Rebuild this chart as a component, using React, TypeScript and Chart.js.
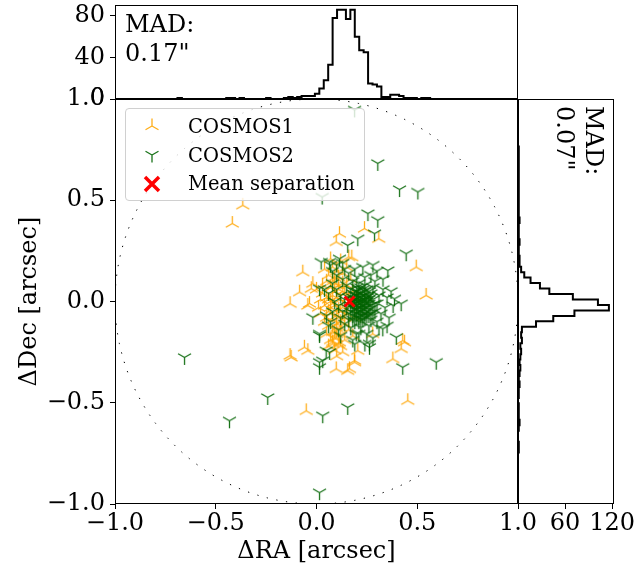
import React, { useEffect, useRef } from 'react';
import { Chart, registerables } from 'chart.js';

Chart.register(...registerables);

const SERIF = "'DejaVu Serif', 'Liberation Serif', serif";

const mainTicks = [-1, -0.5, 0, 0.5, 1];
const topHistTicks = [0, 40, 80];
const rightHistTicks = [60, 120];

const raHistStart = -0.8;
const raHistBinWidth = 0.022;
const raHistCounts = [
  0, 0, 0, 0, 0, 1, 0, 0, 0, 0,
  0, 0, 0, 0, 0, 0, 1, 1, 0, 1,
  0, 0, 0, 0, 0, 1, 0, 0, 0, 1,
  2, 1, 2, 3, 3, 3, 5, 10, 18, 33,
  78, 86, 86, 77, 86, 60, 47, 45, 15, 14,
  12, 2, 2, 4, 4, 3, 1, 1, 1, 0,
  1, 1, 0, 0, 0, 0, 0, 0, 0, 0,
  0, 0,
];

const decHistStart = -0.8;
const decHistBinWidth = 0.027;
const decHistCounts = [
  0, 0, 1, 1, 0, 0, 1, 2, 1, 1,
  1, 0, 1, 1, 2, 1, 2, 3, 2, 3,
  4, 3, 5, 4, 5, 23, 45, 72, 116, 102,
  70, 40, 28, 16, 8, 4, 2, 2, 1, 1,
  2, 1, 1, 1, 2, 1, 1, 1, 1, 1,
  1, 1, 1, 1, 1, 1, 1, 1, 0, 0,
];

// COSMOS1 offsets [dRA, dDec] in arcsec
const cosmos1 = [
  [-0.366, 0.475], [-0.418, 0.385], [0.114, 0.335], [0.238, 0.36], [0.309, 0.31], [0.098, 0.294],
  [0.175, 0.219], [0.495, 0.17], [-0.068, 0.145], [0.544, 0.03], [-0.084, 0.046], [-0.026, 0.063],
  [-0.131, -0.011], [-0.043, -0.02], [-0.131, -0.267], [-0.06, -0.226], [-0.043, -0.243], [0.098, -0.333],
  [0.155, -0.342], [0.189, -0.3], [0.205, -0.243], [0.279, -0.16], [0.379, -0.284], [0.42, -0.234],
  [0.437, -0.201], [0.453, -0.49], [-0.051, -0.54], [0.101, -0.16], [0.081, -0.209], [0.114, -0.201],
  [-0.035, -0.01], [-0.018, 0.088], [-0.126, -0.276], [0.164, -0.333], [0.428, -0.193], [0.189, -0.292],
  [0.09, -0.02], [0.07, 0.0], [0.11, -0.04], [0.08, 0.03], [0.12, 0.01], [0.06, -0.05], [0.1, -0.07],
  [0.13, -0.03], [0.05, 0.02], [0.14, 0.04], [0.08, -0.09], [0.11, 0.06], [0.04, -0.02], [0.15, -0.06],
  [0.07, 0.07], [0.12, -0.1], [0.09, 0.09], [0.03, 0.04], [0.16, 0.02], [0.06, -0.12], [0.1, -0.13],
  [0.14, -0.11], [0.05, 0.1], [0.13, 0.09], [0.02, -0.06], [0.17, -0.02], [0.08, -0.15], [0.11, 0.12],
  [0.04, -0.1], [0.15, 0.08], [0.09, -0.18], [0.12, -0.16], [0.06, 0.13], [0.18, 0.05], [0.03, 0.08],
  [0.07, -0.19], [0.14, -0.19], [0.1, 0.15], [0.16, -0.14], [0.02, 0.01], [0.19, -0.08], [0.05, -0.16],
  [0.13, 0.14], [0.08, 0.17], [0.11, -0.21], [0.01, -0.03], [0.17, 0.11], [0.04, 0.16], [0.09, -0.24],
  [0.15, 0.17], [0.2, 0.01], [0.12, 0.2], [0.07, 0.21], [0.06, -0.22], [0.18, -0.17], [0.0, 0.06],
  [0.13, -0.25], [0.1, -0.27], [0.16, 0.22],
  [0.08, -0.01], [0.1, 0.02], [0.12, -0.05], [0.09, 0.05], [0.07, -0.06], [0.11, -0.08], [0.13, 0.05],
  [0.06, 0.01], [0.1, -0.11], [0.08, 0.1], [0.12, -0.13], [0.09, -0.15], [0.07, -0.03], [0.11, 0.08],
  [0.05, -0.08], [0.1, -0.18], [0.08, -0.2], [0.12, -0.22], [0.09, 0.12], [0.14, -0.08],
];

// COSMOS2 offsets [dRA, dDec] in arcsec
const cosmos2 = [
  [0.189, 0.946], [0.304, 0.682], [0.412, 0.553], [0.503, 0.541], [0.028, 0.516], [0.255, 0.434],
  [0.304, 0.401], [0.288, 0.335], [0.205, 0.31], [0.155, 0.277], [0.445, 0.236], [0.354, 0.153],
  [-0.655, -0.276], [-0.242, -0.474], [-0.432, -0.589], [0.031, -0.564], [0.155, -0.523], [0.015, -0.944],
  [0.594, -0.3], [0.428, -0.325], [0.396, -0.177], [0.329, -0.135], [0.263, -0.209], [0.197, -0.16],
  [0.015, -0.168], [-0.018, -0.078], [0.065, -0.251], [0.031, -0.292], [0.015, -0.325], [0.42, -0.011],
  [0.387, 0.013], [0.023, 0.195], [0.065, 0.195], [0.114, 0.211], [0.015, 0.063], [0.263, -0.226],
  [0.015, -0.3], [0.048, -0.243], [0.015, -0.16],
  [0.2, -0.02], [0.22, -0.01], [0.18, 0.0], [0.24, -0.03], [0.21, 0.02], [0.19, -0.04], [0.23, 0.01],
  [0.17, -0.02], [0.25, 0.0], [0.2, -0.06], [0.22, -0.05], [0.26, -0.04], [0.16, 0.02], [0.19, 0.03],
  [0.24, 0.03], [0.27, -0.02], [0.21, -0.08], [0.18, -0.07], [0.15, -0.03], [0.28, 0.01], [0.23, -0.09],
  [0.26, 0.05], [0.14, 0.01], [0.29, -0.05], [0.2, 0.05], [0.17, 0.06], [0.22, 0.07], [0.25, -0.07],
  [0.13, -0.05], [0.3, -0.01], [0.19, -0.1], [0.16, -0.09], [0.27, -0.09], [0.24, 0.08], [0.12, 0.03],
  [0.31, 0.03], [0.21, 0.09], [0.15, 0.08], [0.28, 0.07], [0.11, -0.02], [0.32, -0.06], [0.18, 0.1],
  [0.26, -0.12], [0.14, -0.11], [0.22, -0.13], [0.1, 0.06], [0.33, 0.06], [0.29, 0.1], [0.12, -0.08],
  [0.2, 0.12], [0.09, 0.0], [0.34, -0.03], [0.24, 0.12], [0.17, -0.13], [0.3, -0.1], [0.08, -0.05],
  [0.35, 0.02], [0.13, 0.11], [0.27, 0.13], [0.21, -0.16], [0.16, 0.14], [0.31, -0.13], [0.08, 0.09],
  [0.36, -0.08], [0.11, -0.14], [0.25, -0.16], [0.19, 0.16], [0.33, 0.11], [0.07, -0.1], [0.28, -0.18],
  [0.14, 0.16], [0.37, 0.05], [0.1, 0.13], [0.06, 0.04], [0.3, 0.15], [0.23, 0.17], [0.12, -0.17],
  [0.35, -0.12], [0.18, -0.19], [0.08, 0.15], [0.07, 0.18], [0.1, 0.18], [0.13, 0.19], [0.05, -0.07],
  [0.06, -0.12], [0.19, -0.21], [0.24, -0.21], [0.38, -0.02], [0.04, 0.06], [0.28, 0.18],
  [0.21, -0.03], [0.23, -0.02], [0.2, 0.0], [0.22, 0.02], [0.25, -0.05], [0.18, -0.03], [0.24, -0.06],
  [0.26, -0.01], [0.19, 0.01], [0.21, 0.04], [0.23, -0.07], [0.27, 0.02],
  [0.2, -0.04], [0.22, -0.03], [0.24, -0.01], [0.19, -0.01], [0.21, -0.05], [0.23, 0.03], [0.25, -0.03],
  [0.18, 0.02], [0.2, 0.03], [0.26, 0.01], [0.22, -0.07], [0.17, -0.05], [0.24, 0.05], [0.27, -0.06],
  [0.21, 0.06], [0.19, -0.06], [0.23, -0.04], [0.25, 0.02], [0.2, -0.08], [0.28, -0.03], [0.18, 0.04],
  [0.22, 0.04], [0.26, -0.07], [0.21, 0.0], [0.23, 0.0], [0.24, -0.08], [0.2, 0.07], [0.17, 0.0],
  [0.27, 0.04], [0.19, 0.05], [0.22, -0.09], [0.25, 0.06], [0.16, -0.06], [0.29, -0.01], [0.21, -0.1],
  [0.18, -0.09], [0.26, 0.03], [0.23, 0.06], [0.28, -0.07], [0.2, -0.01], [0.22, 0.0], [0.24, 0.01],
];

const meanSeparation = { ra: 0.164, dec: 0.0 };
const circleRadius = 1.0;
const madRa = '0.17"';
const madDec = '0.07"';

const fmtMain = (v: number) => (v < 0 ? '\u2212' : '') + Math.abs(v).toFixed(1);

function fixScale(size: number) {
  return (s: any) => {
    if (s.isHorizontal()) s.height = size;
    else s.width = size;
    s.paddingLeft = 0;
    s.paddingRight = 0;
    s.paddingTop = 0;
    s.paddingBottom = 0;
  };
}

function setTicks(values: number[]) {
  return (s: any) => {
    s.ticks = values.map((v) => ({ value: v }));
  };
}

const tickGrid = {
  display: true,
  drawOnChartArea: false,
  drawTicks: true,
  tickLength: 5,
  tickColor: '#000',
  tickWidth: 1,
};

const framePlugin = {
  id: 'frame',
  afterDraw(chart: any) {
    const { ctx, chartArea: a } = chart;
    ctx.save();
    ctx.strokeStyle = '#000';
    ctx.lineWidth = 1;
    ctx.strokeRect(a.left + 0.5, a.top + 0.5, a.right - a.left - 1, a.bottom - a.top - 1);
    ctx.restore();
  },
};

function makeTri(color: string, up: boolean) {
  const s = 19;
  const c = document.createElement('canvas');
  c.width = s;
  c.height = s;
  const ctx = c.getContext('2d')!;
  const cx = s / 2;
  const cy = s / 2;
  const r = 7.5;
  ctx.strokeStyle = color;
  ctx.lineWidth = 1.3;
  ctx.beginPath();
  const dirs = up
    ? [[0, -1], [-0.866, 0.5], [0.866, 0.5]]
    : [[0, 1], [-0.866, -0.5], [0.866, -0.5]];
  for (const [dx, dy] of dirs) {
    ctx.moveTo(cx, cy);
    ctx.lineTo(cx + dx * r, cy + dy * r);
  }
  ctx.stroke();
  return c;
}

function stepTop(start: number, width: number, counts: number[]) {
  const pts: { x: number; y: number }[] = [{ x: start, y: 0 }];
  counts.forEach((c, i) => pts.push({ x: start + i * width, y: c }));
  const end = start + counts.length * width;
  pts.push({ x: end, y: counts[counts.length - 1] });
  pts.push({ x: end, y: 0 });
  return pts;
}

function stepRight(start: number, width: number, counts: number[]) {
  const pts: { x: number; y: number }[] = [{ x: 0, y: start }];
  counts.forEach((c, i) => pts.push({ x: c, y: start + i * width }));
  pts.push({ x: 0, y: start + counts.length * width });
  return pts;
}

const ORANGE = 'rgba(255,165,0,0.9)';
const GREEN = 'rgba(0,100,0,0.9)';
const TICK_FONT = 24;
const TITLE_FONT = 24;

export default function App() {
  const mainRef = useRef<HTMLCanvasElement>(null);
  const topRef = useRef<HTMLCanvasElement>(null);
  const rightRef = useRef<HTMLCanvasElement>(null);

  useEffect(() => {
    document.body.style.margin = '0';
    const triUp = makeTri(ORANGE, true);
    const triDown = makeTri(GREEN, false);
    const circle: { x: number; y: number }[] = [];
    for (let i = 0; i <= 360; i++) {
      const t = (i / 360) * Math.PI * 2;
      circle.push({ x: circleRadius * Math.cos(t), y: circleRadius * Math.sin(t) });
    }

    const tickFont = { family: SERIF, size: TICK_FONT };

    const main = new Chart(mainRef.current!, {
      type: 'scatter',
      data: {
        datasets: [
          {
            label: 'Mean separation',
            data: [{ x: meanSeparation.ra, y: meanSeparation.dec }],
            pointStyle: 'crossRot',
            pointRadius: 7,
            pointBorderWidth: 3,
            borderColor: '#ff0000',
            backgroundColor: '#ff0000',
          } as any,
          {
            label: 'COSMOS2',
            data: cosmos2.map(([x, y]) => ({ x, y })),
            pointStyle: triDown,
            pointRadius: 6,
          } as any,
          {
            label: 'COSMOS1',
            data: cosmos1.map(([x, y]) => ({ x, y })),
            pointStyle: triUp,
            pointRadius: 6,
          } as any,
          {
            label: 'circle',
            data: circle,
            showLine: true,
            borderColor: '#000',
            borderWidth: 1,
            borderDash: [1.3, 8.5],
            pointRadius: 0,
            fill: false,
          } as any,
        ],
      },
      options: {
        responsive: false,
        animation: false,
        events: [],
        layout: { padding: { left: 0, top: 99, right: 121, bottom: 0 }, autoPadding: false },
        plugins: { legend: { display: false }, tooltip: { enabled: false } },
        scales: {
          x: {
            type: 'linear',
            min: -1,
            max: 1,
            position: 'bottom',
            afterBuildTicks: setTicks(mainTicks),
            afterFit: fixScale(68),
            ticks: {
              callback: (v: any) => fmtMain(Number(v)),
              font: tickFont,
              color: '#000',
              padding: 0,
              maxRotation: 0,
              autoSkip: false,
            },
            grid: tickGrid,
            border: { display: false },
            title: {
              display: true,
              text: '\u0394RA [arcsec]',
              font: { family: SERIF, size: TITLE_FONT },
              color: '#000',
              padding: { top: 0, bottom: 6 },
            },
          },
          y: {
            type: 'linear',
            min: -1,
            max: 1,
            position: 'left',
            afterBuildTicks: setTicks(mainTicks),
            afterFit: fixScale(115),
            ticks: {
              callback: (v: any) => fmtMain(Number(v)),
              font: tickFont,
              color: '#000',
              padding: 5,
              autoSkip: false,
            },
            grid: tickGrid,
            border: { display: false },
            title: {
              display: true,
              text: '\u0394Dec [arcsec]',
              font: { family: SERIF, size: TITLE_FONT },
              color: '#000',
              padding: { top: 15, bottom: 0 },
            },
          },
        },
      } as any,
      plugins: [framePlugin],
    });

    const top = new Chart(topRef.current!, {
      type: 'line',
      data: {
        datasets: [
          {
            data: stepTop(raHistStart, raHistBinWidth, raHistCounts),
            stepped: true,
            borderColor: '#000',
            borderWidth: 2,
            pointRadius: 0,
            fill: false,
          } as any,
        ],
      },
      options: {
        responsive: false,
        animation: false,
        events: [],
        layout: { padding: { left: 0, top: 5, right: 121, bottom: 473 }, autoPadding: false },
        plugins: { legend: { display: false }, tooltip: { enabled: false } },
        scales: {
          x: { type: 'linear', min: -1, max: 1, display: false },
          y: {
            type: 'linear',
            min: 0,
            max: 90.5,
            position: 'left',
            afterBuildTicks: setTicks(topHistTicks),
            afterFit: fixScale(115),
            ticks: {
              callback: (v: any) => String(v),
              font: tickFont,
              color: '#000',
              padding: 5,
              autoSkip: false,
            },
            grid: tickGrid,
            border: { display: false },
          },
        },
      } as any,
      plugins: [framePlugin],
    });

    const right = new Chart(rightRef.current!, {
      type: 'line',
      data: {
        datasets: [
          {
            data: stepRight(decHistStart, decHistBinWidth, decHistCounts),
            stepped: 'after',
            borderColor: '#000',
            borderWidth: 2,
            pointRadius: 0,
            fill: false,
          } as any,
        ],
      },
      options: {
        responsive: false,
        animation: false,
        events: [],
        layout: { padding: { left: 518, top: 99, right: 25, bottom: 0 }, autoPadding: false },
        plugins: { legend: { display: false }, tooltip: { enabled: false } },
        scales: {
          x: {
            type: 'linear',
            min: 0,
            max: 122.5,
            position: 'bottom',
            afterBuildTicks: setTicks(rightHistTicks),
            afterFit: fixScale(68),
            ticks: {
              callback: (v: any) => String(v),
              font: tickFont,
              color: '#000',
              padding: 0,
              maxRotation: 0,
              autoSkip: false,
            },
            grid: tickGrid,
            border: { display: false },
          },
          y: { type: 'linear', min: -1, max: 1, display: false },
        },
      } as any,
      plugins: [framePlugin],
    });

    return () => {
      main.destroy();
      top.destroy();
      right.destroy();
    };
  }, []);

  const canvasStyle: React.CSSProperties = { position: 'absolute', left: 0, top: 0, display: 'block' };
  const legendRow = (y: number) => ({ position: 'absolute' as const, left: 62, top: y - 12, lineHeight: '24px' });

  return (
    <div style={{ position: 'relative', width: 639, height: 572, background: '#fff', overflow: 'hidden' }}>
      <canvas ref={mainRef} width={639} height={572} style={canvasStyle} />
      <canvas ref={topRef} width={639} height={572} style={canvasStyle} />
      <canvas ref={rightRef} width={639} height={572} style={canvasStyle} />
      <div
        style={{
          position: 'absolute',
          left: 125,
          top: 10,
          font: `24px ${SERIF}`,
          lineHeight: '29px',
          whiteSpace: 'pre',
          color: '#000',
        }}
      >
        {'MAD:\n' + madRa}
      </div>
      <div
        style={{
          position: 'absolute',
          left: 608,
          top: 106,
          transform: 'rotate(90deg)',
          transformOrigin: '0 0',
          font: `24px ${SERIF}`,
          lineHeight: '29px',
          whiteSpace: 'pre',
          color: '#000',
        }}
      >
        {'MAD:\n' + madDec}
      </div>
      <div
        style={{
          position: 'absolute',
          left: 125,
          top: 108,
          width: 240,
          height: 93,
          boxSizing: 'border-box',
          border: '1px solid #d0d0d0',
          borderRadius: 4,
          background: 'rgba(255,255,255,0.8)',
          font: `19.5px ${SERIF}`,
          color: '#000',
        }}
      >
        <svg width={20} height={20} style={{ position: 'absolute', left: 16, top: 7 }}>
          <path d="M10 10 L10 2.5 M10 10 L3.5 13.75 M10 10 L16.5 13.75" stroke={ORANGE} strokeWidth={1.3} fill="none" />
        </svg>
        <div style={legendRow(18)}>COSMOS1</div>
        <svg width={20} height={20} style={{ position: 'absolute', left: 16, top: 36 }}>
          <path d="M10 10 L10 17.5 M10 10 L3.5 6.25 M10 10 L16.5 6.25" stroke={GREEN} strokeWidth={1.3} fill="none" />
        </svg>
        <div style={legendRow(47)}>COSMOS2</div>
        <svg width={20} height={20} style={{ position: 'absolute', left: 16, top: 65 }}>
          <path d="M3 3 L17 17 M17 3 L3 17" stroke="#ff0000" strokeWidth={3.5} fill="none" />
        </svg>
        <div style={legendRow(75)}>Mean separation</div>
      </div>
    </div>
  );
}
